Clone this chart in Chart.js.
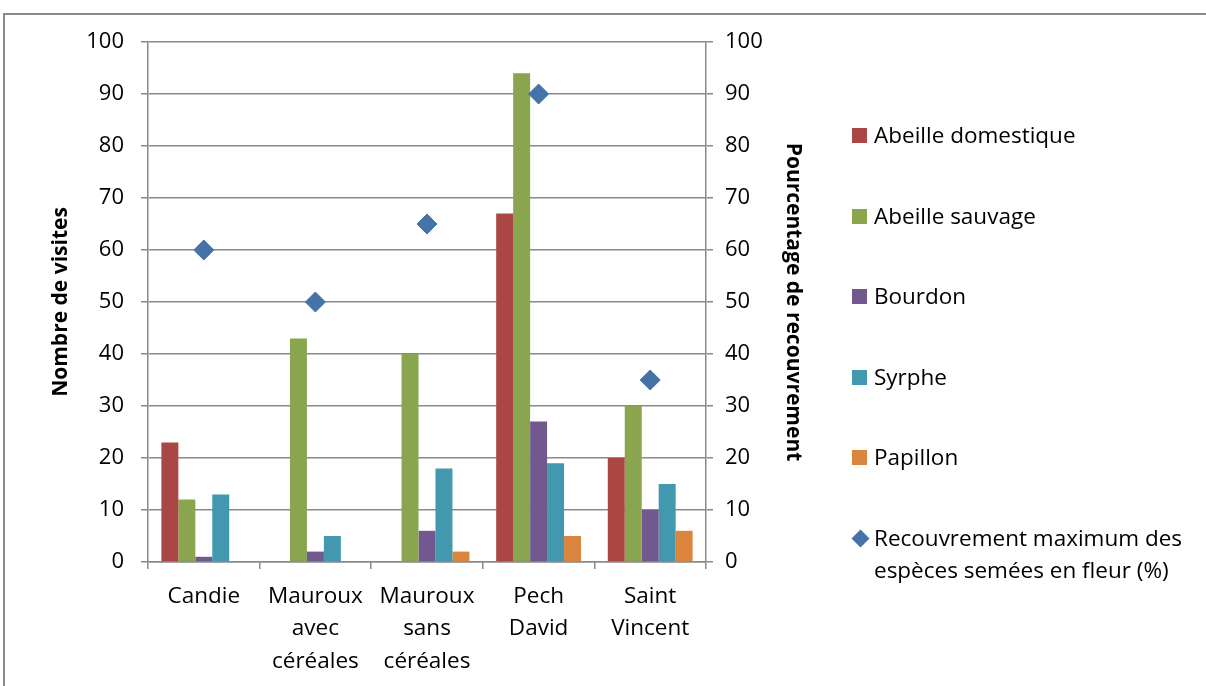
<!DOCTYPE html>
<html>
<head>
<meta charset="utf-8">
<script src="https://cdn.jsdelivr.net/npm/chart.js@4"></script>
<style>
  html, body { margin: 0; padding: 0; background: #fff; overflow: hidden; }
  #wrap { position: relative; width: 1206px; height: 686px; overflow: hidden; }
  #cadre { position: absolute; left: 3px; top: 13px; width: 1203px; height: 673px; border-top: 2px solid #8a8a8a; border-left: 2px solid #8a8a8a; box-sizing: border-box; }
  canvas { position: absolute; left: 0; top: 0; }
  #legende { position: absolute; left: 852px; top: 0; font-family: "Open Sans", sans-serif; font-size: 22.5px; color: #000; }
  .item { position: absolute; left: 0; white-space: nowrap; line-height: 32px; }
  .item span.box { position: absolute; left: 0; top: 9px; width: 15px; height: 15px; }
  .item span.txt { position: absolute; left: 22px; top: 0; }
</style>
</head>
<body>
<div id="wrap">
  <div id="cadre"></div>
  <canvas id="graphique" width="1206" height="686"></canvas>
  <div id="legende"></div>
</div>
<script>
// sites (catégories)
const sites = [
    ["Candie"],
    ["Mauroux", "avec", "céréales"],
    ["Mauroux", "sans", "céréales"],
    ["Pech", "David"],
    ["Saint", "Vincent"]
];

// nombre de visites par groupe
const abeilleDomestique = [23, 0, 0, 67, 20];
const abeilleSauvage = [12, 43, 40, 94, 30];
const bourdon = [1, 2, 6, 27, 10];
const syrphe = [13, 5, 18, 19, 15];
const papillon = [0, 0, 2, 5, 6];

// recouvrement maximum (%)
const recouvrement = [60, 50, 65, 90, 35];

const couleurs = {
    domestique: '#AA4643',
    sauvage: '#89A54E',
    bourdon: '#71588F',
    syrphe: '#4198AF',
    papillon: '#DB843D',
    recouvrement: '#4572A7'
};

const police = '"Open Sans", sans-serif';
const gris = '#8a8a8a';

const barres = [
    { label: 'Abeille domestique', data: abeilleDomestique, color: couleurs.domestique },
    { label: 'Abeille sauvage', data: abeilleSauvage, color: couleurs.sauvage },
    { label: 'Bourdon', data: bourdon, color: couleurs.bourdon },
    { label: 'Syrphe', data: syrphe, color: couleurs.syrphe },
    { label: 'Papillon', data: papillon, color: couleurs.papillon }
];

const datasets = barres.map(b => ({
    type: 'bar',
    label: b.label,
    data: b.data,
    backgroundColor: b.color,
    borderWidth: 0,
    yAxisID: 'y',
    categoryPercentage: 0.76,
    barPercentage: 1,
    order: 2
}));

datasets.push({
    type: 'line',
    label: 'Recouvrement maximum des espèces semées en fleur (%)',
    data: recouvrement,
    showLine: false,
    pointStyle: 'rectRot',
    pointRadius: 10,
    pointBackgroundColor: couleurs.recouvrement,
    pointBorderColor: couleurs.recouvrement,
    yAxisID: 'y1',
    order: 1
});

const ctx = document.getElementById('graphique').getContext('2d');
new Chart(ctx, {
    data: { labels: sites, datasets: datasets },
    options: {
        responsive: false,
        animation: false,
        layout: { padding: { left: 48, right: 400, top: 42, bottom: 0 } },
        plugins: { legend: { display: false }, tooltip: { enabled: false } },
        scales: {
            x: {
                offset: true,
                grid: { drawOnChartArea: false, drawTicks: true, tickLength: 7, color: gris, lineWidth: 1.5, offset: true },
                border: { display: true, color: gris, width: 1.5 },
                ticks: { color: '#000', font: { family: police, size: 22.5, lineHeight: 1.45 }, padding: 11, maxRotation: 0, autoSkip: false },
                afterFit: (s) => { s.height = 124; }
            },
            y: {
                position: 'left',
                min: 0, max: 100,
                ticks: { stepSize: 10, color: '#000', font: { family: police, size: 22 }, padding: 17 },
                grid: { color: gris, lineWidth: 1.5, tickLength: 7 },
                border: { display: true, color: gris, width: 1.5 },
                title: { display: true, text: 'Nombre de visites', color: '#000', font: { family: police, size: 21, weight: 'bold' }, padding: { top: 0, bottom: 0 } },
                afterFit: (s) => { s.width = 100; }
            },
            y1: {
                position: 'right',
                min: 0, max: 100,
                ticks: { stepSize: 10, color: '#000', font: { family: police, size: 22 }, padding: 12 },
                grid: { drawOnChartArea: false, color: gris, lineWidth: 1.5, tickLength: 7 },
                border: { display: true, color: gris, width: 1.5 },
                title: { display: true, text: 'Pourcentage de recouvrement', color: '#000', font: { family: police, size: 21, weight: 'bold' }, padding: { top: 0, bottom: 0 } },
                afterFit: (s) => { s.width = 100; }
            }
        }
    }
});

// légende à droite
const legende = document.getElementById('legende');
const hauteurs = [119, 200, 280, 361, 441, 522];
const items = barres.map(b => ({ label: [b.label], color: b.color, diamant: false }));
items.push({ label: ['Recouvrement maximum des', 'espèces semées en fleur (%)'], color: couleurs.recouvrement, diamant: true });
items.forEach((it, i) => {
    const div = document.createElement('div');
    div.className = 'item';
    div.style.top = hauteurs[i] + 'px';
    const box = document.createElement('span');
    box.className = 'box';
    box.style.background = it.color;
    if (it.diamant) {
        box.style.transform = 'rotate(45deg) scale(0.85)';
        box.style.left = '1px';
    }
    const txt = document.createElement('span');
    txt.className = 'txt';
    txt.innerHTML = it.label.join('<br>');
    div.appendChild(box);
    div.appendChild(txt);
    legende.appendChild(div);
});
</script>
</body>
</html>
